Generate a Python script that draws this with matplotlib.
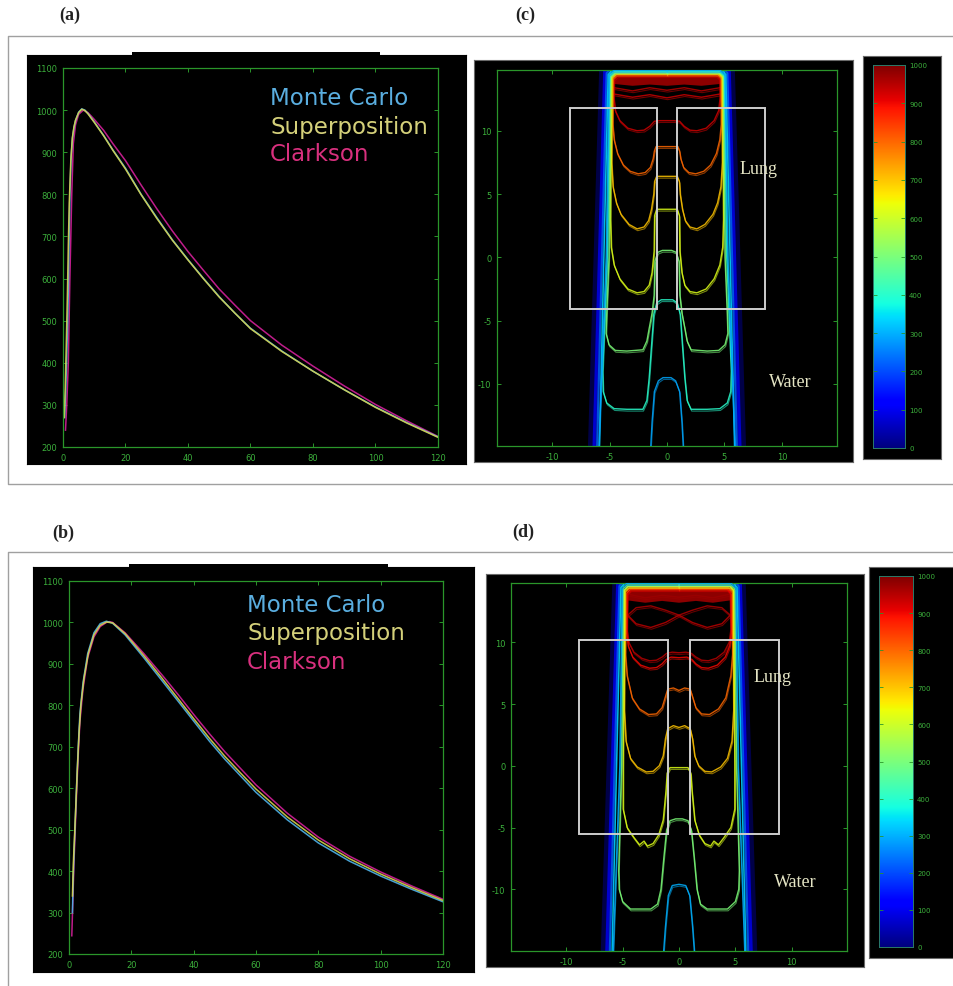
import matplotlib
matplotlib.use("Agg")
import matplotlib.pyplot as plt
import numpy as np
from matplotlib.colors import Normalize
from matplotlib.lines import Line2D
from matplotlib.patches import Rectangle
from matplotlib.transforms import offset_copy

plt.rcParams["axes.unicode_minus"] = False

W, H = 954, 987
GREEN = "#2a962a"
LABEL_GREEN = "#3cb03c"
CMAP = plt.get_cmap("jet")
NORM = Normalize(0, 1000)

# ---------------- depth-dose curves, panel (a) ----------------
a_mc_x = [0.5, 0.8, 1.1, 1.4, 1.7, 2.0, 2.2, 2.6, 3.0, 3.5, 4.0, 5.0, 6.0, 7.0, 8.0, 10, 13, 16,
          20, 25, 30, 35, 40, 45, 50, 55, 60, 70, 80, 90, 100, 110, 120]
a_mc_y = [270, 320, 390, 470, 570, 720, 800, 890, 932, 958, 975, 995, 1003, 1000, 992, 972, 940, 905,
          862, 800, 745, 692, 645, 600, 557, 518, 482, 428, 380, 336, 295, 258, 224]
a_sp_x = [0.4, 0.7, 1.0, 1.4, 1.7, 2.0, 2.5, 3.0, 3.5, 4.0, 5.0, 6.0, 7.0, 8.0, 10, 13, 16,
          20, 25, 30, 35, 40, 45, 50, 55, 60, 70, 80, 90, 100, 110, 120]
a_sp_y = [270, 340, 430, 560, 680, 780, 880, 935, 960, 976, 994, 1002, 999, 991, 971, 939, 904,
          860, 799, 743, 691, 644, 599, 556, 518, 481, 427, 380, 336, 294, 257, 223]
a_cl_x = [0.8, 1.2, 1.7, 2.2, 2.8, 3.3, 4.0, 5.0, 6.5, 8.0, 10, 13, 16, 20, 25, 30, 35, 40,
          45, 50, 55, 60, 70, 80, 90, 100, 110, 120]
a_cl_y = [240, 300, 400, 600, 800, 920, 965, 990, 1000, 994, 978, 952, 920, 880, 822, 766, 713, 664,
          619, 575, 537, 500, 442, 392, 345, 301, 262, 225]

# ---------------- depth-dose curves, panel (b) ----------------
b_mc_x = [1.1, 1.3, 1.6, 2.0, 2.5, 3.0, 3.5, 4.5, 6.0, 8.0, 10, 12, 14, 18, 24, 30, 35, 40,
          45, 50, 55, 60, 70, 80, 90, 100, 110, 120]
b_mc_y = [300, 370, 440, 520, 620, 705, 780, 855, 925, 975, 997, 1003, 998, 970, 915, 858, 810, 762,
          714, 670, 630, 590, 524, 468, 424, 388, 356, 326]
b_sp_x = [1.1, 1.4, 1.8, 2.2, 2.7, 3.2, 3.8, 4.8, 6.2, 8.0, 10, 12, 14, 18, 24, 30, 35, 40,
          45, 50, 55, 60, 70, 80, 90, 100, 110, 120]
b_sp_y = [340, 420, 490, 560, 650, 730, 800, 865, 925, 970, 993, 1001, 999, 973, 920, 864, 816, 768,
          721, 677, 637, 598, 531, 475, 430, 393, 360, 329]
b_cl_x = [0.9, 1.2, 1.6, 2.0, 2.5, 3.0, 3.5, 4.5, 6.0, 8.0, 10, 12, 13, 14, 18, 24, 30, 35, 40,
          45, 50, 55, 60, 70, 80, 90, 100, 110, 120]
b_cl_y = [244, 320, 420, 500, 600, 685, 760, 840, 915, 965, 990, 1000, 1002, 1000, 975, 925, 872, 826, 778,
          732, 688, 648, 608, 540, 482, 436, 398, 364, 332]

series_names = ["Monte Carlo", "Superposition", "Clarkson"]
series_line_colors = ["#4fb4ea", "#d6d24e", "#d4209a"]
series_text_colors = ["#5aaee0", "#d4d07a", "#d8307e"]

# ---------------- isodose contours, panel (c) (left half, mirrored) ----------------
c_levels = [930, 800, 700, 620, 500, 400, 290]
c_halves = [
    [(0, 14.35), (-4.3, 14.35), (-4.6, 14.1), (-4.62, 12.6), (-4.5, 11.6), (-4.1, 10.8), (-3.4, 10.2),
     (-2.6, 10.0), (-2.0, 10.05), (-1.5, 10.35), (-1.1, 10.75), (-0.6, 10.8), (0, 10.8)],
    [(0, 14.45), (-4.4, 14.45), (-4.7, 14.2), (-4.72, 10.5), (-4.6, 9.3), (-4.3, 8.2), (-3.8, 7.3),
     (-3.2, 6.8), (-2.5, 6.6), (-1.9, 6.7), (-1.45, 7.1), (-1.2, 7.8), (-1.1, 8.4), (-0.95, 8.75), (0, 8.75)],
    [(0, 14.55), (-4.45, 14.55), (-4.78, 14.25), (-4.82, 7.5), (-4.7, 5.6), (-4.4, 4.3), (-4.0, 3.4),
     (-3.3, 2.6), (-2.6, 2.25), (-2.0, 2.4), (-1.6, 2.9), (-1.35, 3.8), (-1.15, 5.0), (-1.08, 6.0),
     (-0.9, 6.4), (0, 6.4)],
    [(0, 14.6), (-4.5, 14.6), (-4.85, 14.3), (-4.92, 3.0), (-4.85, 0.8), (-4.6, -0.6), (-4.1, -1.7),
     (-3.4, -2.5), (-2.6, -2.8), (-2.0, -2.7), (-1.55, -2.2), (-1.3, -1.2), (-1.12, 0.5), (-1.08, 3.3),
     (-0.9, 3.8), (0, 3.8)],
    [(0, 14.65), (-4.55, 14.65), (-4.92, 14.35), (-5.05, 0), (-5.25, -4.5), (-5.3, -6.0), (-5.05, -6.9),
     (-4.5, -7.35), (-3.5, -7.4), (-2.1, -7.3), (-1.75, -6.6), (-1.55, -5.6), (-1.3, -4.4), (-1.12, -3.0),
     (-1.05, -0.3), (-0.8, 0.4), (-0.4, 0.55), (0, 0.55)],
    [(0, 14.7), (-4.6, 14.7), (-5.0, 14.4), (-5.2, 0), (-5.6, -9.0), (-5.55, -10.6), (-5.25, -11.5),
     (-4.6, -11.95), (-3.5, -12.0), (-2.1, -12.0), (-1.75, -11.3), (-1.55, -9.5), (-1.35, -7.0),
     (-1.15, -4.5), (-0.9, -3.6), (-0.5, -3.35), (0, -3.35)],
    [(0, 14.75), (-4.65, 14.75), (-5.05, 14.45), (-5.3, 0), (-5.95, -15.5), (-1.45, -15.5),
     (-1.3, -13.0), (-1.1, -10.6), (-0.75, -9.75), (-0.35, -9.5), (0, -9.5)],
]
c_hot_half = [(0, 14.5), (-4.4, 14.5), (-4.65, 14.25), (-4.65, 13.7), (-3.0, 13.55), (-1.5, 13.65), (0, 13.55)]
c_ridge_levels = [960, 945]
c_ridges = [
    [(-4.6, 13.4), (-3.0, 13.15), (-1.5, 13.4), (0, 13.2)],
    [(-4.6, 12.9), (-3.0, 12.65), (-1.5, 12.85), (0, 12.6)],
]
c_glow_levels = [30, 110, 220, 330]
c_glow_top = [15.3, 15.05, 14.9, 14.8]
c_glow_xtop = [-5.6, -5.4, -5.25, -5.12]
c_glow_xbot = [-6.6, -6.35, -6.1, -5.9]
c_lung_x = [(-8.43, -0.85), (0.9, 8.52)]
c_lung_y = (-4.05, 11.8)

# ---------------- isodose contours, panel (d) ----------------
d_levels = [950, 900, 800, 700, 620, 500, 300]
d_halves = [
    [(0, 14.25), (-4.25, 14.25), (-4.55, 14.0), (-4.6, 11.0), (-4.45, 10.0), (-4.0, 9.2), (-3.3, 8.7),
     (-2.6, 8.5), (-2.0, 8.55), (-1.5, 8.8), (-1.1, 9.1), (-0.6, 9.2), (0, 9.15)],
    [(0, 14.3), (-4.3, 14.3), (-4.6, 14.0), (-4.65, 10.8), (-4.5, 9.7), (-4.1, 8.8), (-3.4, 8.15),
     (-2.6, 7.9), (-2.0, 7.95), (-1.5, 8.25), (-1.15, 8.6), (-0.7, 8.8), (0, 8.75)],
    [(0, 14.4), (-4.4, 14.4), (-4.72, 14.1), (-4.75, 9.0), (-4.6, 7.3), (-4.15, 5.5), (-3.5, 4.6),
     (-2.7, 4.15), (-2.0, 4.2), (-1.5, 4.7), (-1.2, 5.6), (-1.0, 6.2), (-0.5, 6.3), (0, 6.1)],
    [(0, 14.5), (-4.5, 14.5), (-4.8, 14.2), (-4.85, 4.5), (-4.7, 2.0), (-4.3, 0.6), (-3.7, -0.1),
     (-2.9, -0.5), (-2.3, -0.45), (-1.75, 0.0), (-1.4, 0.8), (-1.2, 2.2), (-1.0, 3.0), (-0.5, 3.25), (0, 3.1)],
    [(0, 14.55), (-4.55, 14.55), (-4.85, 14.25), (-4.95, 0), (-4.95, -3.5), (-4.6, -5.0), (-4.0, -5.8),
     (-3.5, -6.4), (-3.1, -6.1), (-2.8, -6.5), (-2.3, -6.3), (-1.8, -5.6), (-1.4, -4.4), (-1.15, -2.0),
     (-1.05, -0.6), (-0.8, -0.15), (0, -0.15)],
    [(0, 14.65), (-4.6, 14.65), (-4.95, 14.35), (-5.1, 0), (-5.35, -8.5), (-5.3, -10.0), (-5.0, -11.0),
     (-4.3, -11.6), (-2.5, -11.6), (-1.9, -11.2), (-1.6, -10.0), (-1.35, -7.5), (-1.1, -5.2),
     (-0.8, -4.45), (-0.3, -4.3), (0, -4.3)],
    [(0, 14.75), (-4.65, 14.75), (-5.05, 14.45), (-5.25, 0), (-5.85, -15.5), (-1.4, -15.5),
     (-1.2, -13.0), (-0.95, -10.5), (-0.6, -9.7), (0, -9.6)],
]
d_hot_half = [(0, 14.5), (-4.35, 14.5), (-4.6, 14.25), (-4.6, 13.4), (-3.0, 13.2), (-1.5, 13.35), (0, 13.2)]
d_ridge_levels = [975, 965, 955]
d_ridges = [
    [(-4.55, 13.9), (-3.0, 13.6), (-1.5, 13.8), (0, 13.65)],
    [(-4.55, 12.2), (-3.8, 12.8), (-2.5, 12.95), (-1.2, 12.6), (0, 12.2)],
    [(-4.55, 12.2), (-3.8, 11.5), (-2.5, 11.2), (-1.2, 11.6), (0, 12.2)],
]
d_glow_levels = [30, 110, 220, 330]
d_glow_top = [15.3, 15.05, 14.9, 14.8]
d_glow_xtop = [-5.6, -5.42, -5.28, -5.15]
d_glow_xbot = [-6.65, -6.4, -6.15, -5.95]
d_lung_x = [(-8.9, -0.95), (1.0, 8.9)]
d_lung_y = (-5.5, 10.2)

glow_widths = [5.0, 2.6, 1.6, 1.1]
glow_alphas = [0.45, 0.75, 0.85, 0.9]
cbar_ticks = list(range(0, 1001, 100))


def px_axes(fig, x0, y0, x1, y1):
    """Axes placed from pixel corners of the 954x987 canvas."""
    return fig.add_axes([x0 / W, 1 - y1 / H, (x1 - x0) / W, (y1 - y0) / H])


def black_box(fig, x0, y0, x1, y1, edge="#6a6a6a"):
    ax = px_axes(fig, x0, y0, x1, y1)
    ax.set_facecolor("black")
    ax.set_xticks([])
    ax.set_yticks([])
    for sp in ax.spines.values():
        sp.set_color(edge)
        sp.set_linewidth(0.8)
    return ax


def green_frame(ax):
    ax.set_facecolor("black")
    for sp in ax.spines.values():
        sp.set_color(GREEN)
        sp.set_linewidth(0.9)
    ax.tick_params(direction="in", top=True, right=True, length=3, width=0.7,
                   color=GREEN, labelcolor=LABEL_GREEN, labelsize=6, pad=4)


def mirrored(half):
    xs = [p[0] for p in half]
    ys = [p[1] for p in half]
    return xs + [-x for x in xs[::-1]], ys + ys[::-1]


def dose_panel(fig, box, frame, curves_x, curves_y, legend_x, legend_ys):
    black_box(fig, *box, edge="black")
    ax = px_axes(fig, *frame)
    green_frame(ax)
    for i in [2, 0, 1]:
        ax.plot(curves_x[i], curves_y[i], color=series_line_colors[i], lw=1.1, alpha=0.9)
    ax.set_xlim(0, 120)
    ax.set_ylim(200, 1100)
    ax.set_xticks(range(0, 121, 20))
    ax.set_yticks(range(200, 1101, 100))
    for name, col, ly in zip(series_names, series_text_colors, legend_ys):
        ax.text(legend_x, ly, name, transform=ax.transAxes, color=col, fontsize=16.5,
                ha="left", va="center", family="DejaVu Sans")
    return ax


def contour_panel(fig, box, frame, cbox, cbar, lims, levels, halves, hot_half,
                  ridge_levels, ridges, glow_levels, glow_top, glow_xtop, glow_xbot,
                  lung_x, lung_y, lung_xy, water_xy):
    black_box(fig, *box)
    ax = px_axes(fig, *frame)
    green_frame(ax)
    shifted = offset_copy(ax.transData, fig=fig, x=0.6, y=-1.8, units="dots")

    # penumbra glow along the beam edges
    for lev, yt, xt, xb, lw, al in zip(glow_levels, glow_top, glow_xtop, glow_xbot,
                                       glow_widths, glow_alphas):
        half = [(0, yt), (xt + 0.35, yt), (xt, yt - 0.35), (xb, -15.6)]
        xs, ys = mirrored(half)
        ax.plot(xs, ys, color=CMAP(NORM(lev)), lw=lw, alpha=al, solid_joinstyle="round", zorder=2)

    # hot region just below the surface
    xs, ys = mirrored(hot_half)
    ax.fill(xs, ys, color=CMAP(NORM(985)), lw=0, zorder=2)

    for lev, line in zip(ridge_levels, ridges):
        xs, ys = mirrored(line)
        ax.plot(xs, ys, color=CMAP(NORM(lev)), lw=1.0, alpha=0.9, zorder=3)
        ax.plot(xs, ys, color=CMAP(NORM(lev)), lw=0.8, alpha=0.6, zorder=3, transform=shifted)

    for lev, half in zip(levels, halves):
        xs, ys = mirrored(half)
        col = CMAP(NORM(lev))
        ax.plot(xs, ys, color=col, lw=1.0, alpha=0.85, solid_joinstyle="round", zorder=3)
        ax.plot(xs, ys, color=col, lw=0.8, alpha=0.55, solid_joinstyle="round", zorder=3,
                transform=shifted)

    for x0, x1 in lung_x:
        ax.add_patch(Rectangle((x0, lung_y[0]), x1 - x0, lung_y[1] - lung_y[0], fill=False,
                               ec="#cdcdcd", lw=1.4, zorder=5))
    ax.text(*lung_xy, "Lung", color="#e4e4c4", fontsize=13, family="Liberation Serif",
            ha="center", va="center", zorder=6)
    ax.text(*water_xy, "Water", color="#e4e4c4", fontsize=13, family="Liberation Serif",
            ha="center", va="center", zorder=6)

    ax.set_xlim(*lims[0])
    ax.set_ylim(*lims[1])
    ax.set_xticks([-10, -5, 0, 5, 10])
    ax.set_yticks([-10, -5, 0, 5, 10])

    # colour bar
    black_box(fig, *cbox)
    cax = px_axes(fig, *cbar)
    cax.imshow(np.linspace(0, 1000, 256)[:, None], cmap=CMAP, norm=NORM, aspect="auto",
               origin="lower", extent=[0, 1, 0, 1000])
    cax.set_xlim(0, 1)
    cax.set_ylim(0, 1000)
    cax.set_xticks([])
    cax.set_yticks(cbar_ticks)
    cax.set_yticklabels([str(t) for t in cbar_ticks])
    cax.tick_params(direction="in", left=True, right=True, labelleft=False, labelright=True,
                    length=3, width=0.6, color=GREEN, labelcolor=LABEL_GREEN, labelsize=5, pad=3)
    for sp in cax.spines.values():
        sp.set_color("#2a7a6a")
        sp.set_linewidth(0.7)
    return ax


fig = plt.figure(figsize=(W / 100, H / 100), dpi=100)
fig.patch.set_facecolor("white")

# panel frames
for xs, ys in [([954, 8, 8, 954], [37, 37, 485, 485]), ([954, 8, 8], [553, 553, 990])]:
    fig.add_artist(Line2D([x / W for x in xs], [1 - y / H for y in ys], color="#a0a0a0", lw=1.0))

dose_panel(fig, (27, 56, 466, 465), (63, 69, 438, 448),
           [a_mc_x, a_sp_x, a_cl_x], [a_mc_y, a_sp_y, a_cl_y], 0.552, [0.923, 0.846, 0.775])
dose_panel(fig, (33, 568, 474, 973), (69, 582, 443, 955),
           [b_mc_x, b_sp_x, b_cl_x], [b_mc_y, b_sp_y, b_cl_y], 0.476, [0.938, 0.863, 0.783])

# slightly raised dark strips on top of the curve panels
for x0, y0, x1, y1 in [(132, 53, 380, 58), (129, 565, 388, 570)]:
    black_box(fig, x0, y0, x1, y1).spines[:].set_visible(False)

contour_panel(fig, (474, 61, 853, 463), (497, 71, 837, 447), (863, 57, 941, 460), (873, 66, 905, 449),
              ((-14.8, 14.8), (-14.9, 14.8)), c_levels, c_halves, c_hot_half,
              c_ridge_levels, c_ridges, c_glow_levels, c_glow_top, c_glow_xtop, c_glow_xbot,
              c_lung_x, c_lung_y, (8.0, 7.0), (10.7, -9.8))
contour_panel(fig, (486, 575, 864, 968), (511, 584, 847, 952), (869, 568, 960, 959), (879, 577, 913, 948),
              ((-14.9, 14.9), (-15.0, 14.8)), d_levels, d_halves, d_hot_half,
              d_ridge_levels, d_ridges, d_glow_levels, d_glow_top, d_glow_xtop, d_glow_xbot,
              d_lung_x, d_lung_y, (8.3, 7.2), (10.3, -9.4))

for label, x, y in [("(a)", 70, 15), ("(c)", 525, 15), ("(b)", 63, 533), ("(d)", 523, 532)]:
    fig.text(x / W, 1 - y / H, label, fontsize=13, fontweight="bold", family="Liberation Serif",
             ha="center", va="center", color="#222222")

fig.savefig("out.png", dpi=100, facecolor="white")
